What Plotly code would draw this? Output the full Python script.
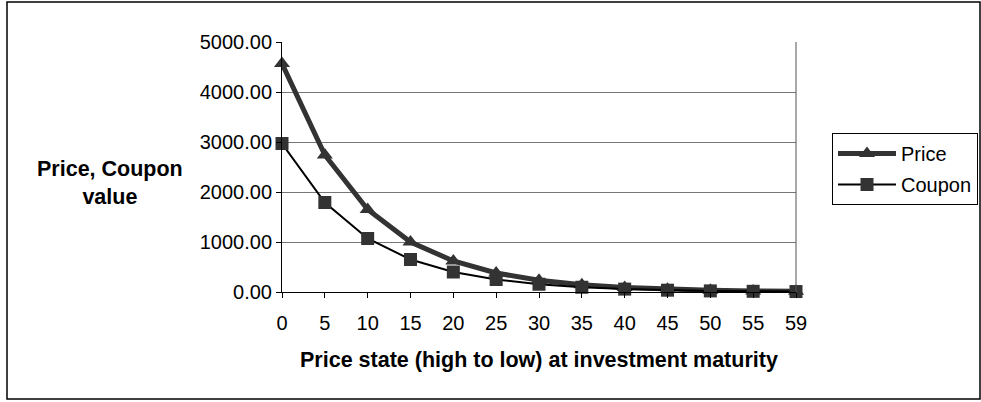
import plotly.graph_objects as go

categories = ["0", "5", "10", "15", "20", "25", "30", "35", "40", "45", "50", "55", "59"]
price = [4570, 2740, 1650, 1000, 620, 380, 235, 145, 90, 55, 34, 21, 14]
coupon = [2970, 1790, 1070, 650, 400, 250, 155, 95, 58, 36, 22, 14, 9]
y_ticks = [0, 1000, 2000, 3000, 4000, 5000]

FONT = "Liberation Sans, Arial, sans-serif"
W, H = 981, 402
L, R, T, B = 282, 796, 42, 292  # plot area in pixels


def px_x(px):
    return (px - L) / (R - L)


def px_y(py):
    return (B - py) / (B - T)


fig = go.Figure()
fig.add_trace(go.Scatter(
    x=categories, y=price, name="Price", mode="lines+markers",
    line=dict(color="#333333", width=5),
    marker=dict(symbol="triangle-up", size=14, color="#333333"),
    legendgroup="a", cliponaxis=False,
))
fig.add_trace(go.Scatter(
    x=categories, y=coupon, name="Coupon", mode="lines+markers",
    line=dict(color="#000000", width=2),
    marker=dict(symbol="square", size=13, color="#333333"),
    legendgroup="b", cliponaxis=False,
))

fig.update_layout(
    width=W, height=H,
    margin=dict(l=L, r=W - R, t=T, b=H - B, pad=0, autoexpand=False),
    paper_bgcolor="white", plot_bgcolor="white",
    font=dict(family=FONT, size=20, color="black"),
    showlegend=True,
    legend=dict(
        x=px_x(832), y=px_y(133), xanchor="left", yanchor="top",
        bordercolor="black", borderwidth=1, bgcolor="white",
        font=dict(family=FONT, size=20, color="black"),
        itemwidth=58, tracegroupgap=2,
    ),
    xaxis=dict(
        type="category", range=[0, len(categories) - 1],
        showgrid=False, showline=True, linecolor="black", linewidth=1,
        mirror=False, ticks="outside", ticklen=5, tickcolor="black",
        tickfont=dict(size=20), zeroline=False, ticklabelstandoff=8,
    ),
    yaxis=dict(
        range=[0, 5000], tickvals=y_ticks, tickformat=".2f",
        showgrid=True, gridcolor="#777777", gridwidth=1,
        showline=True, linecolor="black", linewidth=1,
        ticks="outside", ticklen=5, tickcolor="black",
        tickfont=dict(size=20), zeroline=False,
    ),
    shapes=[
        # plot area right border
        dict(type="line", xref="paper", yref="paper", x0=1, x1=1, y0=0, y1=1,
             line=dict(color="#555555", width=1)),
        # chart border
        dict(type="rect", xref="paper", yref="paper",
             x0=px_x(7), x1=px_x(980), y0=px_y(399), y1=px_y(2),
             line=dict(color="black", width=1.5)),
    ],
    annotations=[
        dict(text="<b>Price, Coupon<br>value</b>", xref="paper", yref="paper",
             x=px_x(110), y=px_y(183), xanchor="center", yanchor="middle",
             showarrow=False, align="center", font=dict(size=21.5)),
        dict(text="<b>Price state (high to low) at investment maturity</b>",
             xref="paper", yref="paper", x=0.5, y=px_y(360),
             xanchor="center", yanchor="middle", showarrow=False,
             font=dict(size=21.5)),
    ],
)

fig.write_html("out.html", config={"displayModeBar": False},
               post_script="document.body.style.margin='0';")
